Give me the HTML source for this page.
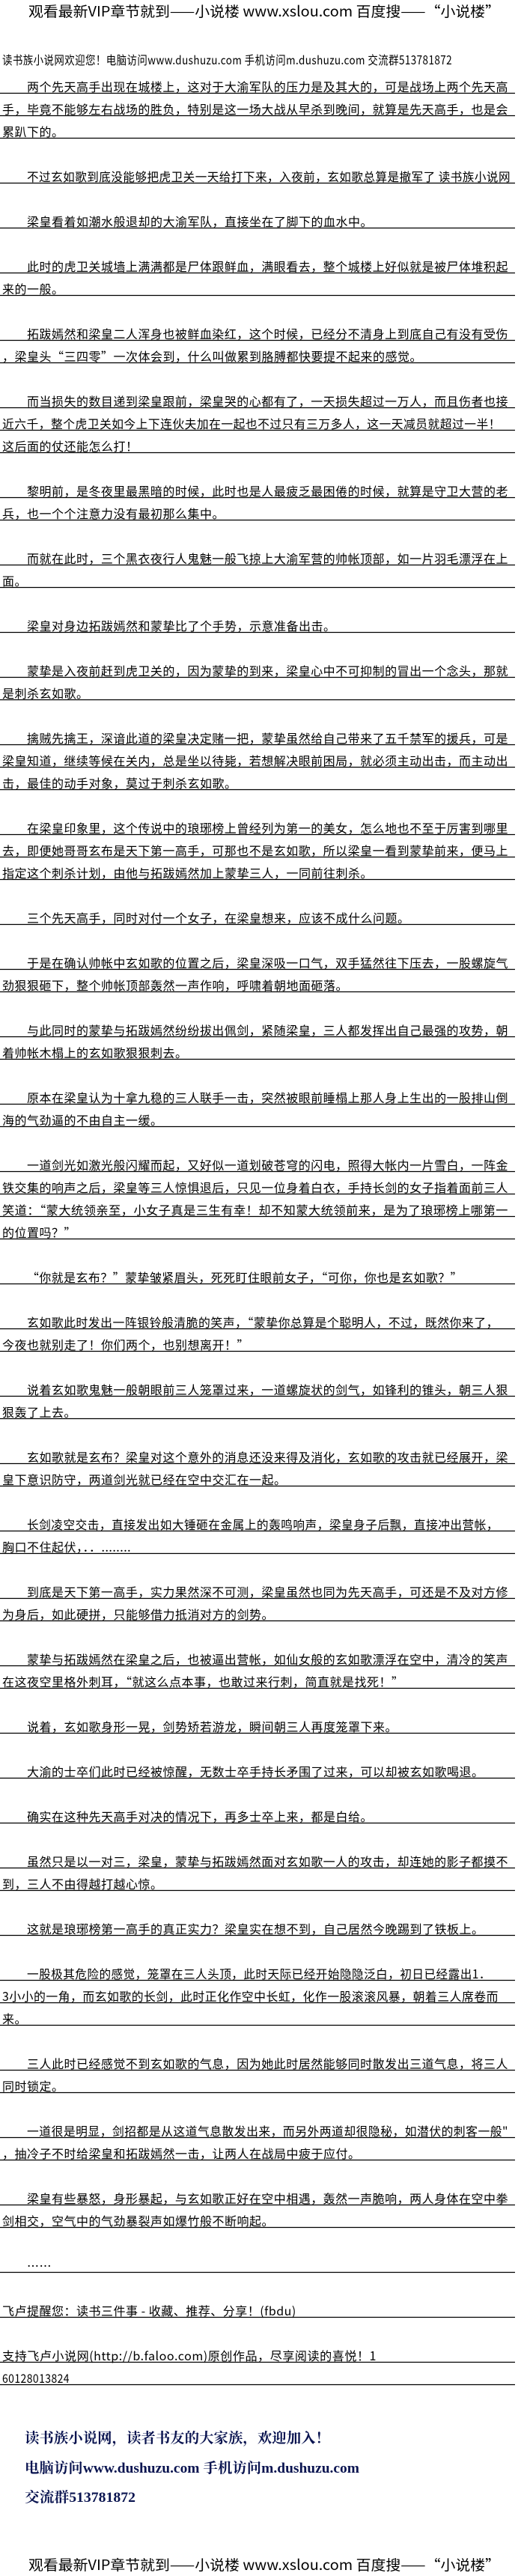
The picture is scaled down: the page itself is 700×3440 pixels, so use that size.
<!DOCTYPE html>
<html><head><meta charset="utf-8">
<style>
html,body{margin:0;padding:0;background:#fff;width:700px;height:3440px;overflow:hidden}
svg{display:block}
text{font-family:"WenQuanYi Zen Hei","Noto Sans CJK SC",sans-serif;font-size:16px;fill:#000;letter-spacing:0.5px}
.t{font-size:19px;letter-spacing:0}
.f{font-family:"Liberation Serif","Noto Serif CJK SC",serif;font-size:19px;font-weight:bold;fill:#0a1450;letter-spacing:0}
line{stroke:#000;stroke-width:1.2}
</style></head><body>
<svg width="700" height="3440" xmlns="http://www.w3.org/2000/svg">
<text class="t" x="38" y="22" textLength="630" lengthAdjust="spacingAndGlyphs">观看最新VIP章节就到——小说楼 www.xslou.com 百度搜——“小说楼”</text>
<text x="3" y="86" textLength="601" lengthAdjust="spacingAndGlyphs">读书族小说网欢迎您！电脑访问www.dushuzu.com 手机访问m.dushuzu.com 交流群513781872</text>

<g>
<text x="36" y="122" textLength="643" lengthAdjust="spacingAndGlyphs">两个先天高手出现在城楼上，这对于大渝军队的压力是及其大的，可是战场上两个先天高</text><line x1="0" y1="124.5" x2="688" y2="124.5"/>
<text x="3" y="152" textLength="676" lengthAdjust="spacingAndGlyphs">手，毕竟不能够左右战场的胜负，特别是这一场大战从早杀到晚间，就算是先天高手，也是会</text><line x1="0" y1="154.5" x2="688" y2="154.5"/>
<text x="3" y="182">累趴下的。</text><line x1="0" y1="184.5" x2="688" y2="184.5"/>

<text x="36" y="242" textLength="646" lengthAdjust="spacingAndGlyphs">不过玄如歌到底没能够把虎卫关一天给打下来，入夜前，玄如歌总算是撤军了 读书族小说网</text><line x1="0" y1="244.5" x2="688" y2="244.5"/>
<text x="36" y="302">梁皇看着如潮水般退却的大渝军队，直接坐在了脚下的血水中。</text><line x1="0" y1="304.5" x2="688" y2="304.5"/>

<text x="36" y="362" textLength="643" lengthAdjust="spacingAndGlyphs">此时的虎卫关城墙上满满都是尸体跟鲜血，满眼看去，整个城楼上好似就是被尸体堆积起</text><line x1="0" y1="364.5" x2="688" y2="364.5"/>
<text x="3" y="392">来的一般。</text><line x1="0" y1="394.5" x2="688" y2="394.5"/>

<text x="36" y="452" textLength="643" lengthAdjust="spacingAndGlyphs">拓跋嫣然和梁皇二人浑身也被鲜血染红，这个时候，已经分不清身上到底自己有没有受伤</text><line x1="0" y1="454.5" x2="688" y2="454.5"/>
<text x="3" y="482">，梁皇头“三四零”一次体会到，什么叫做累到胳膊都快要提不起来的感觉。</text><line x1="0" y1="484.5" x2="688" y2="484.5"/>

<text x="36" y="542" textLength="643" lengthAdjust="spacingAndGlyphs">而当损失的数目递到梁皇跟前，梁皇哭的心都有了，一天损失超过一万人，而且伤者也接</text><line x1="0" y1="544.5" x2="688" y2="544.5"/>
<text x="3" y="572" textLength="666" lengthAdjust="spacingAndGlyphs">近六千，整个虎卫关如今上下连伙夫加在一起也不过只有三万多人，这一天减员就超过一半！</text><line x1="0" y1="574.5" x2="688" y2="574.5"/>
<text x="3" y="602">这后面的仗还能怎么打！</text><line x1="0" y1="604.5" x2="688" y2="604.5"/>

<text x="36" y="662" textLength="643" lengthAdjust="spacingAndGlyphs">黎明前，是冬夜里最黑暗的时候，此时也是人最疲乏最困倦的时候，就算是守卫大营的老</text><line x1="0" y1="664.5" x2="688" y2="664.5"/>
<text x="3" y="692">兵，也一个个注意力没有最初那么集中。</text><line x1="0" y1="694.5" x2="688" y2="694.5"/>

<text x="36" y="752" textLength="643" lengthAdjust="spacingAndGlyphs">而就在此时，三个黑衣夜行人鬼魅一般飞掠上大渝军营的帅帐顶部，如一片羽毛漂浮在上</text><line x1="0" y1="754.5" x2="688" y2="754.5"/>
<text x="3" y="782">面。</text><line x1="0" y1="784.5" x2="688" y2="784.5"/>

<text x="36" y="842">梁皇对身边拓跋嫣然和蒙挚比了个手势，示意准备出击。</text><line x1="0" y1="844.5" x2="688" y2="844.5"/>

<text x="36" y="902" textLength="643" lengthAdjust="spacingAndGlyphs">蒙挚是入夜前赶到虎卫关的，因为蒙挚的到来，梁皇心中不可抑制的冒出一个念头，那就</text><line x1="0" y1="904.5" x2="688" y2="904.5"/>
<text x="3" y="932">是刺杀玄如歌。</text><line x1="0" y1="934.5" x2="688" y2="934.5"/>

<text x="36" y="992" textLength="643" lengthAdjust="spacingAndGlyphs">擒贼先擒王，深谙此道的梁皇决定赌一把，蒙挚虽然给自己带来了五千禁军的援兵，可是</text><line x1="0" y1="994.5" x2="688" y2="994.5"/>
<text x="3" y="1022" textLength="676" lengthAdjust="spacingAndGlyphs">梁皇知道，继续等候在关内，总是坐以待毙，若想解决眼前困局，就必须主动出击，而主动出</text><line x1="0" y1="1024.5" x2="688" y2="1024.5"/>
<text x="3" y="1052">击，最佳的动手对象，莫过于刺杀玄如歌。</text><line x1="0" y1="1054.5" x2="688" y2="1054.5"/>

<text x="36" y="1112" textLength="643" lengthAdjust="spacingAndGlyphs">在梁皇印象里，这个传说中的琅琊榜上曾经列为第一的美女，怎么地也不至于厉害到哪里</text><line x1="0" y1="1114.5" x2="688" y2="1114.5"/>
<text x="3" y="1142" textLength="676" lengthAdjust="spacingAndGlyphs">去，即便她哥哥玄布是天下第一高手，可那也不是玄如歌，所以梁皇一看到蒙挚前来，便马上</text><line x1="0" y1="1144.5" x2="688" y2="1144.5"/>
<text x="3" y="1172">指定这个刺杀计划，由他与拓跋嫣然加上蒙挚三人，一同前往刺杀。</text><line x1="0" y1="1174.5" x2="688" y2="1174.5"/>

<text x="36" y="1232">三个先天高手，同时对付一个女子，在梁皇想来，应该不成什么问题。</text><line x1="0" y1="1234.5" x2="688" y2="1234.5"/>

<text x="36" y="1292" textLength="643" lengthAdjust="spacingAndGlyphs">于是在确认帅帐中玄如歌的位置之后，梁皇深吸一口气，双手猛然往下压去，一股螺旋气</text><line x1="0" y1="1294.5" x2="688" y2="1294.5"/>
<text x="3" y="1322">劲狠狠砸下，整个帅帐顶部轰然一声作响，呼啸着朝地面砸落。</text><line x1="0" y1="1324.5" x2="688" y2="1324.5"/>

<text x="36" y="1382" textLength="643" lengthAdjust="spacingAndGlyphs">与此同时的蒙挚与拓跋嫣然纷纷拔出佩剑，紧随梁皇，三人都发挥出自己最强的攻势，朝</text><line x1="0" y1="1384.5" x2="688" y2="1384.5"/>
<text x="3" y="1412">着帅帐木榻上的玄如歌狠狠刺去。</text><line x1="0" y1="1414.5" x2="688" y2="1414.5"/>

<text x="36" y="1472" textLength="643" lengthAdjust="spacingAndGlyphs">原本在梁皇认为十拿九稳的三人联手一击，突然被眼前睡榻上那人身上生出的一股排山倒</text><line x1="0" y1="1474.5" x2="688" y2="1474.5"/>
<text x="3" y="1502">海的气劲逼的不由自主一缓。</text><line x1="0" y1="1504.5" x2="688" y2="1504.5"/>

<text x="36" y="1562" textLength="643" lengthAdjust="spacingAndGlyphs">一道剑光如激光般闪耀而起，又好似一道划破苍穹的闪电，照得大帐内一片雪白，一阵金</text><line x1="0" y1="1564.5" x2="688" y2="1564.5"/>
<text x="3" y="1592" textLength="676" lengthAdjust="spacingAndGlyphs">铁交集的响声之后，梁皇等三人惊惧退后，只见一位身着白衣，手持长剑的女子指着面前三人</text><line x1="0" y1="1594.5" x2="688" y2="1594.5"/>
<text x="3" y="1622" textLength="676" lengthAdjust="spacingAndGlyphs">笑道：“蒙大统领亲至，小女子真是三生有幸！却不知蒙大统领前来，是为了琅琊榜上哪第一</text><line x1="0" y1="1624.5" x2="688" y2="1624.5"/>
<text x="3" y="1652">的位置吗？”</text><line x1="0" y1="1654.5" x2="688" y2="1654.5"/>

<text x="36" y="1712" textLength="582" lengthAdjust="spacingAndGlyphs">“你就是玄布？”蒙挚皱紧眉头，死死盯住眼前女子，“可你，你也是玄如歌？”</text><line x1="0" y1="1714.5" x2="688" y2="1714.5"/>

<text x="36" y="1772" textLength="630" lengthAdjust="spacingAndGlyphs">玄如歌此时发出一阵银铃般清脆的笑声，“蒙挚你总算是个聪明人，不过，既然你来了，</text><line x1="0" y1="1774.5" x2="688" y2="1774.5"/>
<text x="3" y="1802">今夜也就别走了！你们两个，也别想离开！”</text><line x1="0" y1="1804.5" x2="688" y2="1804.5"/>

<text x="36" y="1862" textLength="643" lengthAdjust="spacingAndGlyphs">说着玄如歌鬼魅一般朝眼前三人笼罩过来，一道螺旋状的剑气，如锋利的锥头，朝三人狠</text><line x1="0" y1="1864.5" x2="688" y2="1864.5"/>
<text x="3" y="1892">狠轰了上去。</text><line x1="0" y1="1894.5" x2="688" y2="1894.5"/>

<text x="36" y="1952" textLength="643" lengthAdjust="spacingAndGlyphs">玄如歌就是玄布？梁皇对这个意外的消息还没来得及消化，玄如歌的攻击就已经展开，梁</text><line x1="0" y1="1954.5" x2="688" y2="1954.5"/>
<text x="3" y="1982">皇下意识防守，两道剑光就已经在空中交汇在一起。</text><line x1="0" y1="1984.5" x2="688" y2="1984.5"/>

<text x="36" y="2042" textLength="630" lengthAdjust="spacingAndGlyphs">长剑凌空交击，直接发出如大锤砸在金属上的轰鸣响声，梁皇身子后飘，直接冲出营帐，</text><line x1="0" y1="2044.5" x2="688" y2="2044.5"/>
<text x="3" y="2072">胸口不住起伏，．．........</text><line x1="0" y1="2074.5" x2="688" y2="2074.5"/>

<text x="36" y="2132" textLength="643" lengthAdjust="spacingAndGlyphs">到底是天下第一高手，实力果然深不可测，梁皇虽然也同为先天高手，可还是不及对方修</text><line x1="0" y1="2134.5" x2="688" y2="2134.5"/>
<text x="3" y="2162">为身后，如此硬拼，只能够借力抵消对方的剑势。</text><line x1="0" y1="2164.5" x2="688" y2="2164.5"/>

<text x="36" y="2222" textLength="643" lengthAdjust="spacingAndGlyphs">蒙挚与拓跋嫣然在梁皇之后，也被逼出营帐，如仙女般的玄如歌漂浮在空中，清冷的笑声</text><line x1="0" y1="2224.5" x2="688" y2="2224.5"/>
<text x="3" y="2252">在这夜空里格外刺耳，“就这么点本事，也敢过来行刺，简直就是找死！”</text><line x1="0" y1="2254.5" x2="688" y2="2254.5"/>

<text x="36" y="2312">说着，玄如歌身形一晃，剑势矫若游龙，瞬间朝三人再度笼罩下来。</text><line x1="0" y1="2314.5" x2="688" y2="2314.5"/>

<text x="36" y="2372">大渝的士卒们此时已经被惊醒，无数士卒手持长矛围了过来，可以却被玄如歌喝退。</text><line x1="0" y1="2374.5" x2="688" y2="2374.5"/>

<text x="36" y="2432">确实在这种先天高手对决的情况下，再多士卒上来，都是白给。</text><line x1="0" y1="2434.5" x2="688" y2="2434.5"/>

<text x="36" y="2492" textLength="643" lengthAdjust="spacingAndGlyphs">虽然只是以一对三，梁皇，蒙挚与拓跋嫣然面对玄如歌一人的攻击，却连她的影子都摸不</text><line x1="0" y1="2494.5" x2="688" y2="2494.5"/>
<text x="3" y="2522">到，三人不由得越打越心惊。</text><line x1="0" y1="2524.5" x2="688" y2="2524.5"/>

<text x="36" y="2582">这就是琅琊榜第一高手的真正实力？梁皇实在想不到，自己居然今晚踢到了铁板上。</text><line x1="0" y1="2584.5" x2="688" y2="2584.5"/>

<text x="36" y="2642" textLength="620" lengthAdjust="spacingAndGlyphs">一股极其危险的感觉，笼罩在三人头顶，此时天际已经开始隐隐泛白，初日已经露出1．</text><line x1="0" y1="2644.5" x2="688" y2="2644.5"/>
<text x="3" y="2672" textLength="663" lengthAdjust="spacingAndGlyphs">3小小的一角，而玄如歌的长剑，此时正化作空中长虹，化作一股滚滚风暴，朝着三人席卷而</text><line x1="0" y1="2674.5" x2="688" y2="2674.5"/>
<text x="3" y="2702">来。</text><line x1="0" y1="2704.5" x2="688" y2="2704.5"/>

<text x="36" y="2762" textLength="643" lengthAdjust="spacingAndGlyphs">三人此时已经感觉不到玄如歌的气息，因为她此时居然能够同时散发出三道气息，将三人</text><line x1="0" y1="2764.5" x2="688" y2="2764.5"/>
<text x="3" y="2792">同时锁定。</text><line x1="0" y1="2794.5" x2="688" y2="2794.5"/>

<text x="36" y="2852" textLength="643" lengthAdjust="spacingAndGlyphs">一道很是明显，剑招都是从这道气息散发出来，而另外两道却很隐秘，如潜伏的刺客一般"</text><line x1="0" y1="2854.5" x2="688" y2="2854.5"/>
<text x="3" y="2882">，抽冷子不时给梁皇和拓跋嫣然一击，让两人在战局中疲于应付。</text><line x1="0" y1="2884.5" x2="688" y2="2884.5"/>

<text x="36" y="2942" textLength="643" lengthAdjust="spacingAndGlyphs">梁皇有些暴怒，身形暴起，与玄如歌正好在空中相遇，轰然一声脆响，两人身体在空中拳</text><line x1="0" y1="2944.5" x2="688" y2="2944.5"/>
<text x="3" y="2972">剑相交，空气中的气劲暴裂声如爆竹般不断响起。</text><line x1="0" y1="2974.5" x2="688" y2="2974.5"/>

<text x="36" y="3032">……</text><line x1="0" y1="3034.5" x2="688" y2="3034.5"/>

<text x="3" y="3092">飞卢提醒您：读书三件事 - 收藏、推荐、分享！(fbdu)</text><line x1="0" y1="3094.5" x2="688" y2="3094.5"/>
<text x="3" y="3152" textLength="500" lengthAdjust="spacingAndGlyphs">支持飞卢小说网(http://b.faloo.com)原创作品，尽享阅读的喜悦！1</text><line x1="0" y1="3154.5" x2="688" y2="3154.5"/>
<text x="3" y="3182" textLength="90" lengthAdjust="spacingAndGlyphs">60128013824</text><line x1="0" y1="3184.5" x2="688" y2="3184.5"/>
</g>

<text class="f" x="33" y="3262" textLength="408" lengthAdjust="spacingAndGlyphs">读书族小说网，读者书友的大家族，欢迎加入！</text>
<text class="f" x="33" y="3302" textLength="447" lengthAdjust="spacingAndGlyphs">电脑访问www.dushuzu.com 手机访问m.dushuzu.com</text>
<text class="f" x="33" y="3341" textLength="148" lengthAdjust="spacingAndGlyphs">交流群513781872</text>

<text class="t" x="38" y="3432" textLength="630" lengthAdjust="spacingAndGlyphs">观看最新VIP章节就到——小说楼 www.xslou.com 百度搜——“小说楼”</text>
</svg>
</body></html>
